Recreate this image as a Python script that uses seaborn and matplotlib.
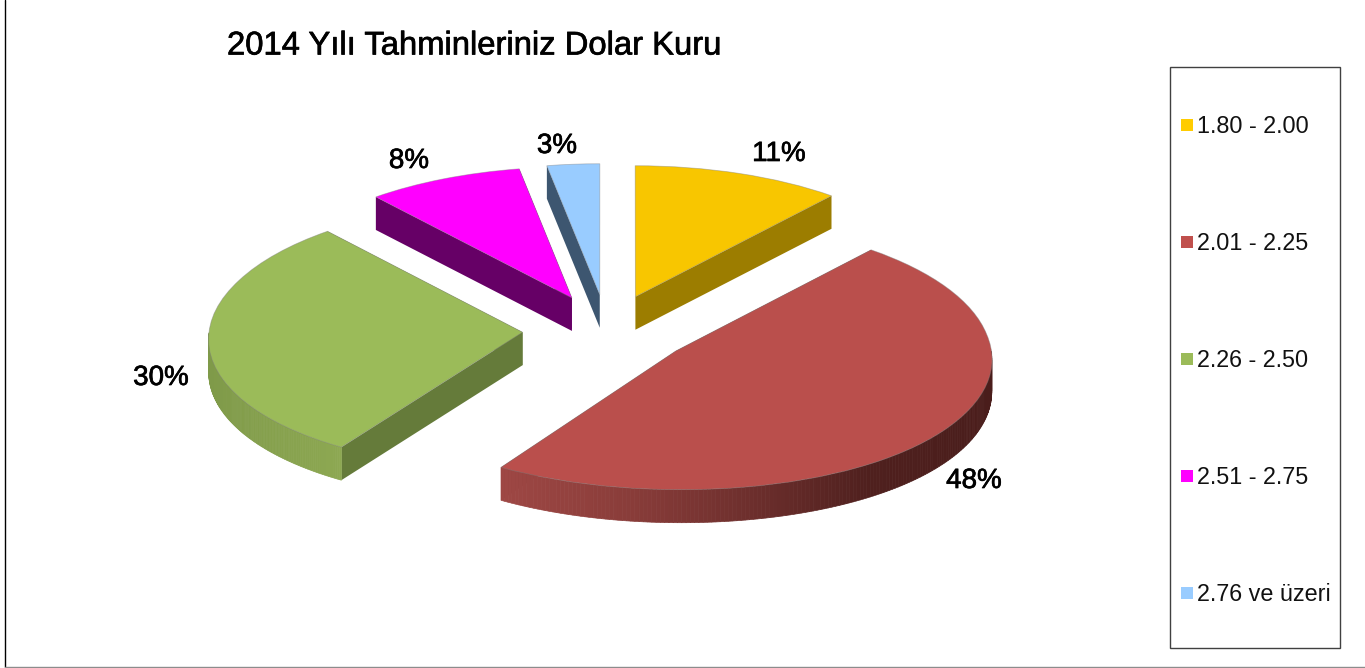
import numpy as np
import matplotlib
matplotlib.use('Agg')
import matplotlib.pyplot as plt
import matplotlib.patheffects as pe
from matplotlib.lines import Line2D
from matplotlib.patches import Rectangle
from matplotlib.transforms import Affine2D, Transform
import seaborn as sns

# data
categories = ['1.80 - 2.00', '2.01 - 2.25', '2.26 - 2.50', '2.51 - 2.75', '2.76 ve üzeri']
shares = [11, 48, 30, 8.25, 2.75]
title = '2014 Yılı Tahminleriniz Dolar Kuru'

# styling
top_colors = ['#F8C600', '#BA4F4C', '#9BBB59', '#FF00FF', '#99CCFF']
legend_colors = ['#FFCC00', '#C0504D', '#9BBB59', '#FF00FF', '#99CCFF']
cut_colors = ['#9C7D00', '#6E2F2D', '#657B3A', '#660066', '#3D5670']
rim_ramps = [
    ['#9C7D00', '#9C7D00'],
    ['#9E4744', '#8A3D3A', '#6E2F2D', '#4F201E', '#4A1D1B'],
    ['#7F9A49', '#8DA852'],
    ['#660066', '#660066'],
    ['#3D5670', '#3D5670'],
]
label_pos = [(779, 152), (974, 479), (161, 376), (409, 159), (557, 144)]

W, H = 1365, 668
RX, RY = 308, 131       # pie radius on screen, squashed into an ellipse
CX, CY = 607, 330       # pie centre in image pixels
DEPTH = 33 / RY         # thickness of the slices
EXPLODE = 0.27


def warp(x, y):
    # rough perspective, the front of the pie comes out bigger than the back
    near = np.clip(1 - y, 0, None)
    return x * (1 + 0.017 * near ** 2.3), y * (1 + 0.045 * np.clip(-y, 0, None))


class PieWarp(Transform):
    input_dims = 2
    output_dims = 2

    def transform_non_affine(self, values):
        x, y = warp(values[:, 0], values[:, 1])
        return np.column_stack([x, y])


sns.set_theme(style='white')
plt.rcParams['font.family'] = ['Liberation Sans', 'DejaVu Sans']

fig = plt.figure(figsize=(W / 100, H / 100), dpi=100)
ax = fig.add_axes([0, 0, 1, 1])

wedges, _ = ax.pie(shares, explode=[EXPLODE] * len(shares), startangle=90, counterclock=False,
                   colors=sns.color_palette(top_colors),
                   wedgeprops={'linewidth': 0.6, 'edgecolor': (0.5, 0.5, 0.5, 0.45), 'zorder': 5})

# squash the pie, 1 unit is RX pixels across and RY pixels down
ax.set_aspect('auto')
ax.set_xlim(-CX / RX, (W - CX) / RX)
ax.set_ylim(-(H - CY) / RY, CY / RY)
ax.axis('off')

# pixel coordinates with the origin top left, like the picture
px = Affine2D().scale(1, -1).translate(0, H)

for wedge, cut, ramp in zip(wedges, cut_colors, rim_ramps):
    wedge.set_transform(PieWarp() + ax.transData)
    x0, y0 = wedge.center
    ax0, ay0 = warp(np.array([x0]), np.array([y0]))
    # the two flat cut faces
    for angle in (wedge.theta1, wedge.theta2):
        xe, ye = warp(x0 + np.cos(np.radians([angle])), y0 + np.sin(np.radians([angle])))
        ax.fill([ax0[0], xe[0], xe[0], ax0[0]], [ay0[0], ye[0], ye[0] - DEPTH, ay0[0] - DEPTH],
                color=cut, lw=0, zorder=2)

    # the curved rim, only the front half can be seen, drawn in thin strips for the shading
    angles = np.linspace(wedge.theta1, wedge.theta2, 240)
    angles = angles[np.sin(np.radians(angles)) <= 0]
    if len(angles) > 1:
        xs, ys = warp(x0 + np.cos(np.radians(angles)), y0 + np.sin(np.radians(angles)))
        cmap = sns.blend_palette(ramp, as_cmap=True)
        span = xs.max() - xs.min()
        for i in range(len(xs) - 1):
            ax.fill([xs[i], xs[i + 1], xs[i + 1], xs[i]],
                    [ys[i], ys[i + 1], ys[i + 1] - DEPTH, ys[i] - DEPTH],
                    color=cmap((xs[i] - xs.min()) / span), lw=0.5, zorder=3)

stroke = [pe.withStroke(linewidth=0.5, foreground='black')]

for value, (lx, ly) in zip(shares, label_pos):
    ax.text(lx, ly + 2, f'{round(value)}%', transform=px, fontsize=20, color='black', ha='center', va='center',
            path_effects=stroke, zorder=6)

ax.text(227, 46, title, transform=px, fontsize=23.6, color='black', ha='left', va='center',
        path_effects=stroke)

# outer chart border and legend box
ax.add_line(Line2D([4.5, 4.5], [0, 667], transform=px, color='black', lw=1.0))
ax.add_line(Line2D([4.5, W], [667, 667], transform=px, color='#8c8c8c', lw=1.0))
ax.add_patch(Rectangle((1170, 67), 170, 581, transform=px, facecolor='white', edgecolor='#404040', lw=1.0, zorder=4))

handles = [Line2D([], [], linestyle='none', marker='s', markersize=8.6, markeredgewidth=0, color=c)
           for c in legend_colors]
ax.legend(handles, categories, loc='upper left', bbox_to_anchor=(1178, 115), bbox_transform=px,
          frameon=False, fontsize=16.8, labelspacing=4.03, handlelength=0.8, handletextpad=0.03,
          borderpad=0, borderaxespad=0, labelcolor='#111111')

fig.savefig('out.png', dpi=100, facecolor='white')
